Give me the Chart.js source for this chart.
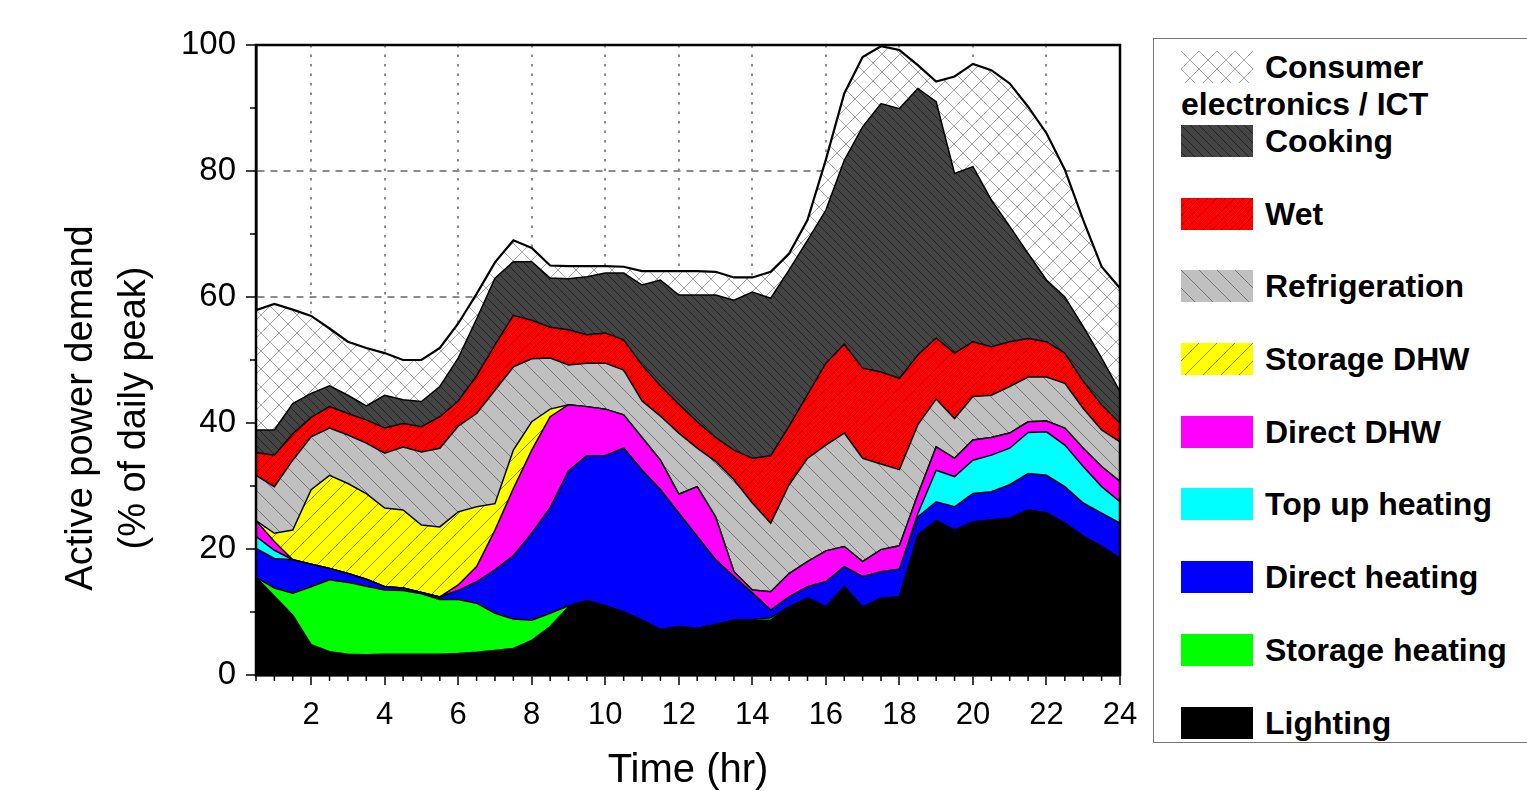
<!DOCTYPE html>
<html>
<head>
<meta charset="utf-8">
<script src="https://cdn.jsdelivr.net/npm/chart.js@4.4.1/dist/chart.umd.min.js"></script>
<style>
  html, body { margin: 0; padding: 0; background: #fff; }
  #wrap { position: absolute; left: 0; top: 0; width: 1527px; height: 791px; overflow: hidden; }
  #chartBox { position: absolute; left: 0; top: 0; width: 1527px; height: 791px; }
  #ytitle {
    position: absolute; left: 106px; top: 408px; width: 600px;
    transform: translate(-50%, -50%) rotate(-90deg);
    font: 38px "Liberation Sans", Arial, sans-serif; line-height: 53px;
    text-align: center; color: #000; white-space: nowrap;
  }
  #legend {
    position: absolute; left: 1153px; top: 38px; width: 420px; height: 703px;
    border: 1.5px solid #777; background: #fff;
    font: bold 32px "Liberation Sans", Arial, sans-serif; color: #000;
  }
  .sw { position: absolute; left: 27px; width: 72px; height: 32px; }
  .lb { position: absolute; left: 111px; height: 32px; line-height: 32px; white-space: nowrap; }
</style>
</head>
<body>
<div id="wrap">
  <div id="chartBox"><canvas id="c"></canvas></div>
  <div id="ytitle">Active power demand<br>(% of daily peak)</div>
  <div id="legend"></div>
</div>
<script>
// time of day, half-hour steps
const hours = [0.5, 1, 1.5, 2, 2.5, 3, 3.5, 4, 4.5, 5, 5.5, 6, 6.5, 7, 7.5, 8, 8.5, 9, 9.5, 10, 10.5, 11, 11.5, 12,
  12.5, 13, 13.5, 14, 14.5, 15, 15.5, 16, 16.5, 17, 17.5, 18, 18.5, 19, 19.5, 20, 20.5, 21, 21.5, 22, 22.5, 23, 23.5, 24];

// % of daily peak (stacked bottom -> top)
const lighting = [15.5, 12.5, 9.5, 4.8, 3.7, 3.3, 3.2, 3.3, 3.3, 3.3, 3.3, 3.4, 3.6, 3.9, 4.2, 5.5, 7.7, 10.8, 11.8, 11.0,
  10.0, 8.7, 7.2, 7.7, 7.4, 8.0, 8.7, 8.7, 8.7, 10.8, 12.2, 10.8, 14.0, 10.8, 12.2, 12.4, 22.2, 24.5, 23.0, 24.3,
  24.6, 24.9, 26.2, 25.7, 24.1, 22.0, 20.4, 18.5];
const storageHeating = [0, 1.3, 3.5, 9.2, 11.4, 11.4, 10.9, 10.2, 10.1, 9.6, 8.7, 8.6, 7.8, 5.9, 4.7, 3.2, 2.1, 0.2, 0, 0,
  0, 0, 0, 0, 0, 0, 0, 0.1, 0.4, 0, 0, 0, 0, 0, 0, 0, 0, 0, 0, 0, 0, 0, 0, 0, 0, 0, 0, 0];
const directHeating = [4.6, 4.7, 5.3, 3.6, 1.8, 1.4, 1.1, 0.5, 0.4, 0.2, 0.4, 1.4, 3.4, 6.9, 10.0, 13.8, 16.7, 21.4, 23.0, 23.8,
  26.0, 23.8, 22.2, 18.0, 14.6, 10.3, 6.9, 4.2, 1.2, 1.6, 1.8, 4.0, 3.2, 4.8, 4.2, 4.4, 2.9, 3.0, 3.7, 4.5,
  4.5, 5.3, 5.8, 6.0, 5.8, 5.3, 5.3, 5.6];
const topUpHeating = [1.9, 1.3, 0, 0, 0, 0, 0, 0, 0, 0, 0, 0, 0, 0, 0, 0, 0, 0, 0, 0,
  0, 0, 0, 0, 0, 0, 0, 0, 0, 0, 0, 0, 0, 0, 0, 0, 0.5, 5.0, 4.8, 5.3,
  5.8, 5.8, 6.5, 6.9, 6.6, 5.8, 4.2, 3.4];
const directDHW = [2.5, 1.4, 0, 0, 0, 0, 0, 0, 0, 0, 0, 0.9, 2.4, 6.3, 10.7, 13.2, 14.5, 10.5, 7.8, 7.4,
  5.3, 5.2, 4.7, 3.0, 7.9, 6.8, 0.8, 0.5, 2.9, 3.7, 4.0, 4.9, 3.2, 2.4, 3.5, 3.7, 3.0, 3.7, 2.9, 3.2,
  2.8, 2.4, 1.7, 1.7, 2.7, 2.9, 3.2, 3.2];
const storageDHW = [0, 1.3, 4.7, 11.8, 14.8, 14.3, 13.6, 12.5, 12.4, 10.7, 11.1, 11.6, 9.5, 4.2, 6.1, 4.5, 1.2, 0, 0, 0,
  0, 0, 0, 0, 0, 0, 0, 0, 0, 0, 0, 0, 0, 0, 0, 0, 0, 0, 0, 0, 0, 0, 0, 0, 0, 0, 0, 0];
const refrigeration = [7.2, 7.4, 11.1, 8.4, 7.5, 7.7, 8.0, 8.7, 10.0, 11.6, 12.5, 13.6, 14.8, 18.0, 13.2, 10.0, 8.1, 6.3, 6.9, 7.3,
  7.1, 5.8, 7.0, 9.7, 6.1, 8.8, 14.6, 13.8, 10.9, 14.1, 16.4, 16.8, 18.0, 16.4, 13.6, 12.1, 11.1, 7.6, 6.3, 6.9,
  6.7, 7.4, 7.1, 7.0, 7.1, 6.3, 5.8, 6.3];
const wet = [3.6, 5.0, 4.2, 3.1, 3.4, 3.4, 3.7, 4.0, 3.7, 4.0, 5.0, 4.0, 6.0, 7.2, 8.2, 6.1, 4.9, 5.6, 4.5, 4.8,
  4.8, 5.7, 4.8, 4.6, 4.2, 3.8, 4.7, 7.1, 10.7, 9.3, 10.1, 13.0, 14.1, 14.3, 14.6, 14.5, 11.1, 9.7, 10.4, 8.7,
  7.7, 7.1, 6.1, 5.6, 4.8, 4.3, 4.0, 3.0];
const cooking = [3.6, 4.0, 4.8, 3.8, 3.3, 2.9, 2.2, 5.2, 3.8, 4.0, 4.8, 6.8, 9.0, 10.6, 8.5, 9.3, 7.8, 8.1, 9.2, 9.5,
  10.6, 12.7, 16.8, 17.3, 20.1, 22.6, 23.8, 26.4, 25.0, 24.8, 24.5, 24.3, 29.2, 38.3, 42.6, 42.8, 42.3, 37.5, 28.5, 27.8,
  23.3, 18.3, 13.5, 9.8, 8.9, 8.7, 7.4, 5.0];
const consumerElectronics = [19.0, 20.0, 14.9, 12.3, 9.1, 8.5, 9.2, 6.7, 6.3, 6.6, 6.1, 5.5, 4.0, 2.5, 3.4, 2.2, 2.0, 2.0, 1.7, 1.1,
  1.0, 2.2, 1.4, 3.8, 3.8, 3.7, 3.6, 2.3, 4.2, 2.6, 3.2, 8.0, 10.6, 11.1, 9.1, 9.3, 3.7, 3.2, 15.4, 16.3,
  20.6, 22.7, 23.3, 23.3, 20.2, 16.9, 14.5, 16.4];

const xTicks = [2, 4, 6, 8, 10, 12, 14, 16, 18, 20, 22, 24];
const yTicks = [0, 20, 40, 60, 80, 100];

// hatch fills
function hatch(bg, line, s, dirs, w) {
  const c = document.createElement('canvas');
  c.width = s; c.height = s;
  const g = c.getContext('2d');
  g.fillStyle = bg;
  g.fillRect(0, 0, s, s);
  if (line) {
    g.strokeStyle = line;
    g.lineWidth = w;
    g.beginPath();
    if (dirs.indexOf('/') >= 0) {
      g.moveTo(0, s); g.lineTo(s, 0);
      g.moveTo(-s / 2, s / 2); g.lineTo(s / 2, -s / 2);
      g.moveTo(s / 2, s * 1.5); g.lineTo(s * 1.5, s / 2);
    }
    if (dirs.indexOf('\\') >= 0) {
      g.moveTo(0, 0); g.lineTo(s, s);
      g.moveTo(-s / 2, s / 2); g.lineTo(s / 2, s * 1.5);
      g.moveTo(s / 2, -s / 2); g.lineTo(s * 1.5, s / 2);
    }
    g.stroke();
  }
  return c;
}

const series = [
  { label: 'Lighting', data: lighting, tile: hatch('#000000', null, 8, '', 1) },
  { label: 'Storage heating', data: storageHeating, tile: hatch('#00ff00', null, 8, '', 1) },
  { label: 'Direct heating', data: directHeating, tile: hatch('#0000ff', null, 8, '', 1) },
  { label: 'Top up heating', data: topUpHeating, tile: hatch('#00ffff', null, 8, '', 1) },
  { label: 'Direct DHW', data: directDHW, tile: hatch('#ff00ff', null, 8, '', 1) },
  { label: 'Storage DHW', data: storageDHW, tile: hatch('#ffff00', '#8a8a30', 18, '/', 1) },
  { label: 'Refrigeration', data: refrigeration, tile: hatch('#c0c0c0', '#777777', 18, '\\', 1) },
  { label: 'Wet', data: wet, tile: hatch('#ff0000', '#a00000', 9, '/', 1) },
  { label: 'Cooking', data: cooking, tile: hatch('#444444', '#222222', 9, '\\', 1) },
  { label: 'Consumer electronics / ICT', data: consumerElectronics, tile: hatch('#ffffff', '#a8a8a8', 18, '/\\', 1) }
];

const cv = document.getElementById('c');
const ctx = cv.getContext('2d');

const datasets = series.map((s, i) => ({
  label: s.label,
  data: hours.map((h, j) => ({ x: h, y: s.data[j] })),
  backgroundColor: ctx.createPattern(s.tile, 'repeat'),
  borderColor: '#000',
  borderWidth: i === series.length - 1 ? 2.2 : 1.5,
  pointRadius: 0,
  tension: 0,
  fill: i === 0 ? 'origin' : '-1'
}));

const frameTicks = {
  id: 'frameTicks',
  afterDraw(chart) {
    const { ctx, chartArea: a, scales: { x, y } } = chart;
    ctx.save();
    ctx.strokeStyle = '#000';
    ctx.lineWidth = 1.5;
    ctx.beginPath();
    hours.forEach(h => {
      if (xTicks.indexOf(h) < 0) {
        const px = x.getPixelForValue(h);
        ctx.moveTo(px, a.bottom); ctx.lineTo(px, a.bottom + 6);
      }
    });
    [10, 30, 50, 70, 90].forEach(v => {
      const py = y.getPixelForValue(v);
      ctx.moveTo(a.left, py); ctx.lineTo(a.left - 6, py);
    });
    ctx.stroke();
    ctx.lineWidth = 2.5;
    ctx.strokeRect(a.left, a.top, a.right - a.left, a.bottom - a.top);
    ctx.restore();
  }
};

const clear = 'rgba(0,0,0,0)';
const font = '"Liberation Sans", Arial, sans-serif';

new Chart(cv, {
  type: 'line',
  data: { datasets: datasets },
  plugins: [frameTicks],
  options: {
    responsive: true,
    maintainAspectRatio: false,
    animation: false,
    devicePixelRatio: 1,
    layout: { padding: { left: 0, right: 407, top: 45, bottom: 0 } },
    plugins: { legend: { display: false }, tooltip: { enabled: false } },
    scales: {
      x: {
        type: 'linear', min: 0.5, max: 24,
        afterFit(s) { s.height = 116; },
        ticks: {
          stepSize: 0.5, autoSkip: false, maxRotation: 0, padding: 12,
          color: '#000', font: { family: font, size: 31 },
          callback: v => (xTicks.indexOf(v) >= 0 ? String(v) : '')
        },
        grid: {
          lineWidth: 2, tickLength: 10, tickWidth: 1.5,
          color: c => (c.tick && xTicks.indexOf(c.tick.value) >= 0 && c.tick.value < 24 ? '#8c8c8c' : clear),
          tickColor: c => (c.tick && xTicks.indexOf(c.tick.value) >= 0 ? '#000' : clear)
        },
        border: { display: true, color: '#000', width: 2.5, dash: [2.5, 7] },
        title: { display: true, text: 'Time (hr)', color: '#000', font: { family: font, size: 40, lineHeight: 1.0 }, padding: { top: 0, bottom: 0 } }
      },
      y: {
        stacked: true, min: 0, max: 100,
        afterFit(s) { s.width = 256; },
        ticks: {
          stepSize: 10, padding: 10, color: '#000', font: { family: font, size: 33 },
          callback: v => (yTicks.indexOf(v) >= 0 ? String(v) : '')
        },
        grid: {
          lineWidth: 2, tickLength: 10, tickWidth: 1.5,
          color: c => (c.tick && c.tick.value % 20 === 0 && c.tick.value > 0 && c.tick.value < 100 ? '#8c8c8c' : clear),
          tickColor: c => (c.tick && yTicks.indexOf(c.tick.value) >= 0 ? '#000' : clear)
        },
        border: { display: true, color: '#000', width: 2.5, dash: [7, 6] }
      }
    }
  }
});

// legend, top entry first
const legend = document.getElementById('legend');
const rows = [
  { i: 9, top: 12, text: 'Consumer' },
  { i: 8, top: 86 }, { i: 7, top: 159 }, { i: 6, top: 231 }, { i: 5, top: 304 },
  { i: 4, top: 377 }, { i: 3, top: 449 }, { i: 2, top: 522 }, { i: 1, top: 595 }, { i: 0, top: 668 }
];
rows.forEach(r => {
  const s = series[r.i];
  const sw = document.createElement('canvas');
  sw.className = 'sw'; sw.width = 72; sw.height = 32;
  sw.style.top = r.top + 'px';
  const g = sw.getContext('2d');
  g.fillStyle = g.createPattern(s.tile, 'repeat');
  g.fillRect(0, 0, 72, 32);
  legend.appendChild(sw);
  const lb = document.createElement('div');
  lb.className = 'lb';
  lb.style.top = r.top + 'px';
  lb.textContent = r.text || s.label;
  legend.appendChild(lb);
});
const extra = document.createElement('div');
extra.className = 'lb';
extra.style.left = '27px';
extra.style.top = '49px';
extra.textContent = 'electronics / ICT';
legend.appendChild(extra);
</script>
</body>
</html>
